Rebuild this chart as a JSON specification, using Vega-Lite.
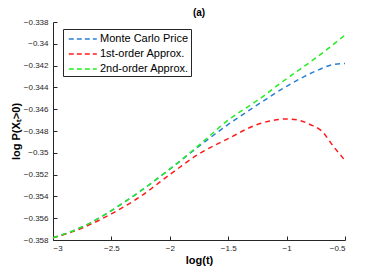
{
  "$schema": "https://vega.github.io/schema/vega-lite/v6.json",
  "width": 292,
  "height": 218,
  "padding": {"left": 53, "top": 22, "right": 37, "bottom": 33},
  "autosize": {"type": "none"},
  "background": "white",
  "config": {
    "font": "Liberation Sans",
    "view": {"stroke": null},
    "axis": {"grid": false, "domainColor": "#262626", "tickColor": "#262626", "labelColor": "#262626", "titleColor": "#000000", "labelFontSize": 8, "titleFontSize": 11, "titleFontWeight": "bold", "tickSize": -4, "labelPadding": 8}
  },
  "title": {"text": "(a)", "fontSize": 10, "fontWeight": "bold", "font": "Liberation Sans", "offset": 0},
  "data": {
    "values": [
      {"x": -3.0, "y": -0.3578, "s": "Monte Carlo Price"},
      {"x": -2.75, "y": -0.3568, "s": "Monte Carlo Price"},
      {"x": -2.5, "y": -0.3553, "s": "Monte Carlo Price"},
      {"x": -2.25, "y": -0.3535, "s": "Monte Carlo Price"},
      {"x": -2.0, "y": -0.3515, "s": "Monte Carlo Price"},
      {"x": -1.75, "y": -0.3494, "s": "Monte Carlo Price"},
      {"x": -1.5, "y": -0.3474, "s": "Monte Carlo Price"},
      {"x": -1.25, "y": -0.3456, "s": "Monte Carlo Price"},
      {"x": -1.0, "y": -0.3439, "s": "Monte Carlo Price"},
      {"x": -0.75, "y": -0.3425, "s": "Monte Carlo Price"},
      {"x": -0.6, "y": -0.3419, "s": "Monte Carlo Price"},
      {"x": -0.5, "y": -0.3418, "s": "Monte Carlo Price"},
      {"x": -3.0, "y": -0.3578, "s": "1st-order Approx."},
      {"x": -2.75, "y": -0.3569, "s": "1st-order Approx."},
      {"x": -2.5, "y": -0.3556, "s": "1st-order Approx."},
      {"x": -2.25, "y": -0.354, "s": "1st-order Approx."},
      {"x": -2.0, "y": -0.352, "s": "1st-order Approx."},
      {"x": -1.75, "y": -0.3501, "s": "1st-order Approx."},
      {"x": -1.5, "y": -0.3487, "s": "1st-order Approx."},
      {"x": -1.25, "y": -0.3474, "s": "1st-order Approx."},
      {"x": -1.0, "y": -0.3469, "s": "1st-order Approx."},
      {"x": -0.9, "y": -0.347, "s": "1st-order Approx."},
      {"x": -0.8, "y": -0.3474, "s": "1st-order Approx."},
      {"x": -0.7, "y": -0.348, "s": "1st-order Approx."},
      {"x": -0.6, "y": -0.3494, "s": "1st-order Approx."},
      {"x": -0.5, "y": -0.3507, "s": "1st-order Approx."},
      {"x": -3.0, "y": -0.3578, "s": "2nd-order Approx."},
      {"x": -2.75, "y": -0.3568, "s": "2nd-order Approx."},
      {"x": -2.5, "y": -0.3553, "s": "2nd-order Approx."},
      {"x": -2.25, "y": -0.3535, "s": "2nd-order Approx."},
      {"x": -2.0, "y": -0.3515, "s": "2nd-order Approx."},
      {"x": -1.75, "y": -0.3493, "s": "2nd-order Approx."},
      {"x": -1.5, "y": -0.347, "s": "2nd-order Approx."},
      {"x": -1.25, "y": -0.3452, "s": "2nd-order Approx."},
      {"x": -1.0, "y": -0.3432, "s": "2nd-order Approx."},
      {"x": -0.75, "y": -0.3413, "s": "2nd-order Approx."},
      {"x": -0.5, "y": -0.3392, "s": "2nd-order Approx."}
    ]
  },
  "mark": {"type": "line", "strokeWidth": 1.5, "strokeDash": [5, 4], "interpolate": "monotone", "clip": true},
  "encoding": {
    "x": {"field": "x", "type": "quantitative", "scale": {"domain": [-3, -0.5], "nice": false, "zero": false},
      "axis": {"title": "log(t)", "values": [-3, -2.5, -2, -1.5, -1, -0.5], "format": "~g", "titlePadding": 2}},
    "y": {"field": "y", "type": "quantitative", "scale": {"domain": [-0.358, -0.338], "nice": false, "zero": false},
      "axis": {"title": "log P(Xₜ>0)", "values": [-0.358, -0.356, -0.354, -0.352, -0.35, -0.348, -0.346, -0.344, -0.342, -0.34, -0.338], "format": ".3~f", "titlePadding": 2, "labelPadding": 9}},
    "color": {"field": "s", "type": "nominal",
      "scale": {"domain": ["Monte Carlo Price", "1st-order Approx.", "2nd-order Approx."], "range": ["#2a7fd0", "#ff1a1a", "#22ee22"]},
      "legend": {"title": null, "orient": "none", "legendX": 10, "legendY": 7, "symbolType": "M-0.6,0H3.4", "symbolSize": 196, "symbolStrokeWidth": 1.5, "symbolDash": [5, 3], "labelFontSize": 11, "labelColor": "#000000", "strokeColor": "#262626", "fillColor": "white", "padding": 2, "rowPadding": 2, "labelOffset": 19, "symbolOffset": 0}},
    "order": {"field": "x", "type": "quantitative"}
  }
}
